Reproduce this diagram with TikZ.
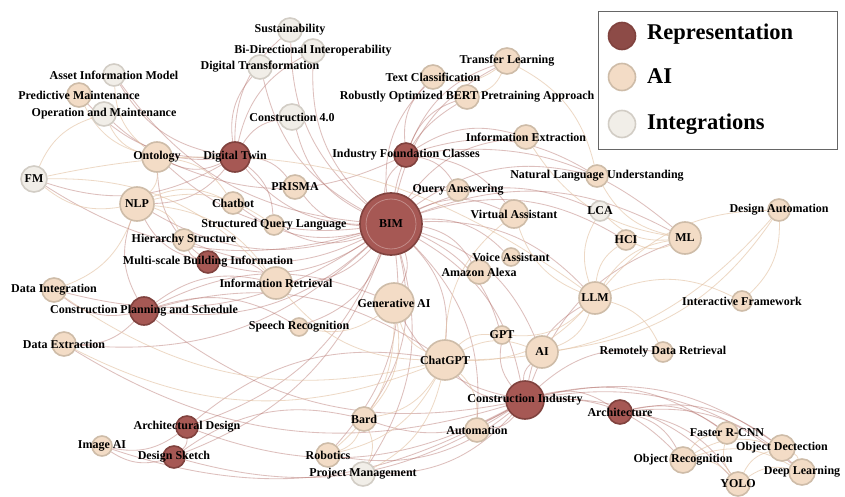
\documentclass[tikz,border=0pt]{standalone}
\usepackage{fontspec}
\setmainfont{Liberation Serif}
\pgfdeclarelayer{edges}
\pgfdeclarelayer{labels}
\pgfsetlayers{edges,main,labels}

\definecolor{repfill}{RGB}{166,88,84}
\definecolor{repline}{RGB}{128,66,62}
\definecolor{aifill}{RGB}{243,220,198}
\definecolor{ailine}{RGB}{206,188,168}
\definecolor{intfill}{RGB}{241,238,232}
\definecolor{intline}{RGB}{210,205,197}
\definecolor{edgerose}{RGB}{176,104,98}
\definecolor{edgepeach}{RGB}{228,196,166}

\tikzset{
  dot/.style={circle,inner sep=0pt,line width=1.6pt},
  rep/.style={dot,fill=repfill,draw=repline},
  ai/.style={dot,fill=aifill,draw=ailine},
  integ/.style={dot,fill=intfill,draw=intline},
  lbl/.style={inner sep=0pt,font=\fontsize{12}{12}\selectfont\bfseries},
  legtext/.style={inner sep=0pt,anchor=west,font=\fontsize{22.5}{22.5}\selectfont\bfseries},
  roseedge/.style={draw=edgerose,opacity=0.42,line width=0.85pt},
  peachedge/.style={draw=edgepeach,opacity=0.65,line width=0.8pt}
}

\begin{document}
\begin{tikzpicture}[x=1pt,y=-1pt]
  \useasboundingbox (0,0) rectangle (845,497);
  \begin{pgfonlayer}{edges}
    \fill[white] (0,0) rectangle (845,497);
  \end{pgfonlayer}

  % the nodes: name/x/y/radius/kind/label
  \foreach \nm/\x/\y/\r/\kind/\txt in {
      sust/290/30/12/integ/Sustainability,
      bidi/313/51/12/integ/Bi-Directional Interoperability,
      dtrans/260/67/12/integ/Digital Transformation,
      aim/114/75/11/integ/Asset Information Model,
      pm/79/95/12/ai/Predictive Maintenance,
      om/104/114/12/integ/Operation and Maintenance,
      ontology/157/157/15/ai/Ontology,
      dtwin/235/157/15/rep/Digital Twin,
      c40/292/117/13/integ/Construction 4.0,
      prisma/295/187/12/ai/PRISMA,
      fm/34/179/13/integ/FM,
      nlp/137/204/17/ai/NLP,
      chatbot/233/203/11/ai/Chatbot,
      sql/274/225/10/ai/Structured Query Language,
      hier/184/240/11/ai/Hierarchy Structure,
      msbi/208/262/11/rep/Multi-scale Building Information,
      ir/276/283/16/ai/Information Retrieval,
      dint/54/290/12/ai/Data Integration,
      cps/144/311/14/rep/Construction Planning and Schedule,
      speech/299/327/9/ai/Speech Recognition,
      dext/64/344/12/ai/Data Extraction,
      bim/391/224/31/rep/BIM,
      ifc/406/155/12/rep/Industry Foundation Classes,
      tcls/433/77/12/ai/Text Classification,
      tl/507/61/13/ai/Transfer Learning,
      roberta/467/97/12/ai/Robustly Optimized BERT Pretraining Approach,
      iext/526/137/12/ai/Information Extraction,
      qa/458/190/11/ai/Query Answering,
      nlu/597/176/11/ai/Natural Language Understanding,
      va/514/214/14/ai/Virtual Assistant,
      lca/600/211/10/integ/LCA,
      hci/626/240/10/ai/HCI,
      ml/685/238/16/ai/ML,
      da/779/210/11/ai/Design Automation,
      voice/511/257/9/ai/Voice Assistant,
      alexa/479/272/12/ai/Amazon Alexa,
      genai/394/303/20/ai/Generative AI,
      llm/595/298/16/ai/LLM,
      iframe/742/301/10/ai/Interactive Framework,
      gpt/502/335/9/ai/GPT,
      aa/542/352/16/ai/AI,
      rdr/663/352/10/ai/Remotely Data Retrieval,
      chatgpt/445/360/20/ai/ChatGPT,
      ci/525/400/19/rep/Construction Industry,
      arch/620/412/12/rep/Architecture,
      bard/364/419/12/ai/Bard,
      auto/477/430/12/ai/Automation,
      frcnn/727/433/11/ai/Faster R-CNN,
      od/782/448/13/ai/Object Dectection,
      orec/683/460/13/ai/Object Recognition,
      dl/802/472/13/ai/Deep Learning,
      yolo/738/484/12/ai/YOLO,
      robotics/328/455/12/ai/Robotics,
      pmgmt/363/474/12/integ/Project Management,
      ad/187/427/11/rep/Architectural Design,
      imgai/102/446/10/ai/Image AI,
      dsketch/174/457/11/rep/Design Sketch}
  {
    \node[\kind,minimum size=2*\r] (\nm) at (\x,\y) {};
    \begin{pgfonlayer}{labels}
      \node[lbl] at (\nm) {\txt};
    \end{pgfonlayer}
  }
  % inner ring of the hub
  \draw[draw=repfill!70!white,line width=0.8pt] (bim) circle (25);

  % the curved links
  \begin{pgfonlayer}{edges}
    \foreach \a/\others in {
        bim/{ifc,dtwin,ontology,nlp,chatbot,sql,prisma,hier,msbi,ir,cps,dint,dext,speech,genai,qa,va,voice,alexa,ml,nlu,ci,chatgpt,gpt,bard,sust,bidi,dtrans,c40,aim,fm,tcls,iext,roberta,tl,llm,aa,robotics,pmgmt,auto,ad,dsketch,lca,hci},
        dtwin/{sust,bidi,dtrans,c40,aim,pm,om,ontology,fm,prisma,nlp,sql},
        ifc/{tcls,tl,roberta,iext,qa,ml,nlu,ontology,va},
        ci/{chatgpt,aa,gpt,auto,arch,orec,frcnn,yolo,dl,od,llm,genai,bard,robotics,pmgmt,dsketch,ad,cps,dext,imgai,ml,rdr},
        arch/{orec,frcnn,yolo,dl,od},
        cps/{nlp,dint,dext,ir,chatgpt,speech,genai},
        msbi/{nlp,hier,ir,ontology},
        ad/{dsketch,imgai,chatgpt},
        dsketch/{imgai,bard}}
      \foreach \b in \others
        \draw[roseedge] (\a) to[bend left=24] (\b);
    \foreach \a/\others in {
        ontology/{nlp,pm,om,aim,chatbot},
        nlp/{fm,hier,ir,dint,chatbot,sql},
        fm/{ir,om,llm},
        llm/{da,iframe,hci,ml,rdr,aa,chatgpt,gpt,lca,va},
        ml/{hci,lca,nlu,iext},
        da/{iframe,aa,chatgpt},
        chatgpt/{bard,robotics,pmgmt,auto,gpt,aa,genai,dext,dint,ir,va},
        orec/{frcnn,yolo,od,dl},
        yolo/{dl,od,frcnn},
        od/{dl},
        genai/{bard,robotics,speech},
        tl/{tcls,roberta,nlu},
        bard/{robotics,pmgmt}}
      \foreach \b in \others
        \draw[peachedge] (\a) to[bend left=24] (\b);
  \end{pgfonlayer}

  % legend
  \begin{pgfonlayer}{labels}
    \draw[line width=1pt,draw=black!60,fill=white] (598,12) rectangle (837,150);
    \node[rep,minimum size=27,fill=repfill!85!black] (legrep) at (622,36) {};
    \node[ai,minimum size=27] (legai) at (622,77) {};
    \node[integ,minimum size=27] (legint) at (622,124) {};
    \node[legtext] at (647,34) {Representation};
    \node[legtext] at (647,76) {AI};
    \node[legtext] at (647,124) {Integrations};
  \end{pgfonlayer}
\end{tikzpicture}
\end{document}
